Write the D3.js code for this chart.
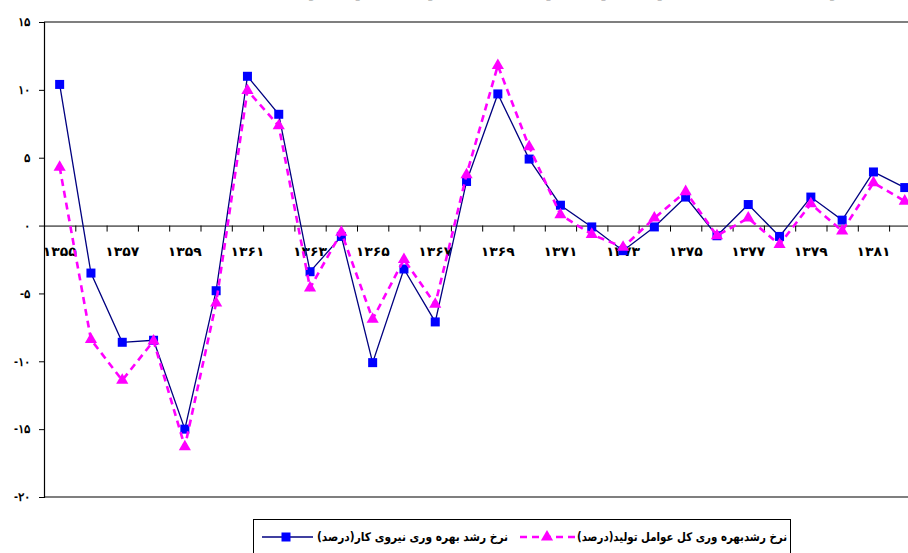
<!DOCTYPE html>
<html>
<head>
<meta charset="utf-8">
<script src="https://cdn.jsdelivr.net/npm/d3@7"></script>
<style>
  html, body { margin: 0; padding: 0; background: #fff; }
  svg { display: block; font-family: "DejaVu Sans", Arial, sans-serif; }
</style>
</head>
<body>
<div id="chart"></div>
<script>
// years 1355..1382
const years = [1355, 1356, 1357, 1358, 1359, 1360, 1361, 1362, 1363, 1364, 1365, 1366, 1367, 1368,
               1369, 1370, 1371, 1372, 1373, 1374, 1375, 1376, 1377, 1378, 1379, 1380, 1381, 1382];

// blue series, solid line with squares
const laborGrowth = [10.4, -3.5, -8.6, -8.45, -15.0, -4.8, 11.0, 8.2, -3.4, -0.8, -10.1, -3.2, -7.1, 3.25,
                     9.7, 4.9, 1.5, -0.1, -1.85, -0.1, 2.1, -0.75, 1.55, -0.8, 2.1, 0.4, 3.95, 2.8];

// magenta series, dashed line with triangles
const tfpGrowth = [4.3, -8.4, -11.4, -8.5, -16.3, -5.7, 9.95, 7.35, -4.6, -0.5, -6.9, -2.5, -5.8, 3.75,
                   11.8, 5.8, 0.8, -0.65, -1.6, 0.55, 2.5, -0.75, 0.55, -1.4, 1.6, -0.4, 3.15, 1.8];

const xTickLabels = ["۱۳۵۵", "۱۳۵۷", "۱۳۵۹", "۱۳۶۱", "۱۳۶۳", "۱۳۶۵", "۱۳۶۷",
                     "۱۳۶۹", "۱۳۷۱", "۱۳۷۳", "۱۳۷۵", "۱۳۷۷", "۱۳۷۹", "۱۳۸۱"];
const yTickValues = [15, 10, 5, 0, -5, -10, -15, -20];
const yTickLabels = ["۱۵", "۱۰", "۵", "۰", "-۵", "-۱۰", "-۱۵", "-۲۰"];

const seriesNames = ["نرخ رشد  بهره وری نیروی کار(درصد)", "نرخ رشدبهره وری  کل عوامل تولید(درصد)"];
const titleText = "نمودار (۲): نرخ رشد بهره وری نیروی کار و نرخ رشد بهره وری کل عوامل تولید (درصد)";

const width = 908, height = 553;
const plot = { left: 44, top: 22, bottom: 497, right: 44 + years.length * 31.3 };

const svg = d3.select("#chart").append("svg")
  .attr("width", width)
  .attr("height", height);

svg.append("rect").attr("width", width).attr("height", height).attr("fill", "#fff");

// band index scale (category boundaries) and center position
const xIdx = d3.scaleLinear().domain([0, years.length]).range([plot.left, plot.right]);
const xPos = (i) => xIdx(i + 0.5);

const y = d3.scaleLinear().domain([-20, 15]).range([plot.bottom, plot.top]);

// title (cut off at the top edge, as in the source image)
svg.append("text")
  .attr("x", 544)
  .attr("y", -3)
  .attr("text-anchor", "middle")
  .attr("direction", "rtl")
  .attr("font-size", 12)
  .attr("font-weight", "bold")
  .attr("textLength", 622)
  .attr("lengthAdjust", "spacingAndGlyphs")
  .text(titleText);

// plot border top & bottom
svg.append("line")
  .attr("x1", plot.left).attr("x2", width)
  .attr("y1", y(15)).attr("y2", y(15))
  .attr("stroke", "#000").attr("stroke-width", 1.2);
svg.append("line")
  .attr("x1", plot.left).attr("x2", width)
  .attr("y1", y(-20)).attr("y2", y(-20))
  .attr("stroke", "#000").attr("stroke-width", 1.2);

// y axis
const yAxis = svg.append("g")
  .attr("transform", `translate(${plot.left},0)`)
  .call(d3.axisLeft(y)
    .tickValues(yTickValues)
    .tickSize(5)
    .tickPadding(9)
    .tickFormat((d, i) => yTickLabels[i]));
yAxis.select(".domain").attr("stroke", "#000").attr("stroke-width", 1.2);
yAxis.selectAll(".tick line").attr("stroke", "#000");
yAxis.selectAll(".tick text")
  .attr("font-size", 12)
  .attr("font-weight", "bold")
  .attr("fill", "#000");

// x axis on the zero line, ticks at category boundaries
const xAxis = svg.append("g")
  .attr("transform", `translate(0,${y(0)})`)
  .call(d3.axisBottom(xIdx)
    .tickValues(d3.range(0, years.length + 1))
    .tickSize(6)
    .tickSizeOuter(0)
    .tickFormat(""));
xAxis.select(".domain").attr("stroke", "#000").attr("stroke-width", 1);
xAxis.selectAll(".tick line").attr("stroke", "#000");

svg.append("g").selectAll("text")
  .data(xTickLabels)
  .join("text")
  .attr("x", (d, i) => xPos(i * 2))
  .attr("y", y(0) + 30)
  .attr("text-anchor", "middle")
  .attr("font-size", 13)
  .attr("font-weight", "bold")
  .attr("fill", "#000")
  .attr("textLength", 34)
  .attr("lengthAdjust", "spacingAndGlyphs")
  .text(d => d);

const line = d3.line()
  .x((d, i) => xPos(i))
  .y(d => y(d));

// blue series
svg.append("path")
  .datum(laborGrowth)
  .attr("d", line)
  .attr("fill", "none")
  .attr("stroke", "#000080")
  .attr("stroke-width", 1.3);

svg.append("g").selectAll("rect")
  .data(laborGrowth)
  .join("rect")
  .attr("x", (d, i) => xPos(i) - 4.5)
  .attr("y", d => y(d) - 4.5)
  .attr("width", 9)
  .attr("height", 9)
  .attr("fill", "#0000ff");

// magenta series
svg.append("path")
  .datum(tfpGrowth)
  .attr("d", line)
  .attr("fill", "none")
  .attr("stroke", "#ff00ff")
  .attr("stroke-width", 2.6)
  .attr("stroke-dasharray", "7,5");

const tri = d3.symbol().type(d3.symbolTriangle).size(64);
svg.append("g").selectAll("path")
  .data(tfpGrowth)
  .join("path")
  .attr("transform", (d, i) => `translate(${xPos(i)},${y(d)})`)
  .attr("d", tri)
  .attr("fill", "#ff00ff");

// legend
const lg = svg.append("g");
lg.append("rect")
  .attr("x", 253.5).attr("y", 519.5)
  .attr("width", 537).attr("height", 50)
  .attr("fill", "#fff")
  .attr("stroke", "#000")
  .attr("stroke-width", 1);

const ly = 537;
lg.append("line")
  .attr("x1", 262).attr("x2", 313).attr("y1", ly).attr("y2", ly)
  .attr("stroke", "#000080").attr("stroke-width", 1.3);
lg.append("rect")
  .attr("x", 286 - 4.5).attr("y", ly - 4.5).attr("width", 9).attr("height", 9)
  .attr("fill", "#0000ff");

lg.append("line")
  .attr("x1", 520).attr("x2", 575).attr("y1", ly).attr("y2", ly)
  .attr("stroke", "#ff00ff").attr("stroke-width", 2.6)
  .attr("stroke-dasharray", "7,5");
lg.append("path")
  .attr("transform", `translate(547,${ly})`)
  .attr("d", tri)
  .attr("fill", "#ff00ff");

const legendPos = [{ cx: 412.5, w: 191 }, { cx: 682, w: 210 }];
lg.selectAll("text.name")
  .data(seriesNames)
  .join("text")
  .attr("class", "name")
  .attr("x", (d, i) => legendPos[i].cx)
  .attr("y", ly + 4)
  .attr("text-anchor", "middle")
  .attr("direction", "rtl")
  .attr("font-size", 12)
  .attr("font-weight", "bold")
  .attr("fill", "#000")
  .attr("textLength", (d, i) => legendPos[i].w)
  .attr("lengthAdjust", "spacingAndGlyphs")
  .text(d => d);
</script>
</body>
</html>
